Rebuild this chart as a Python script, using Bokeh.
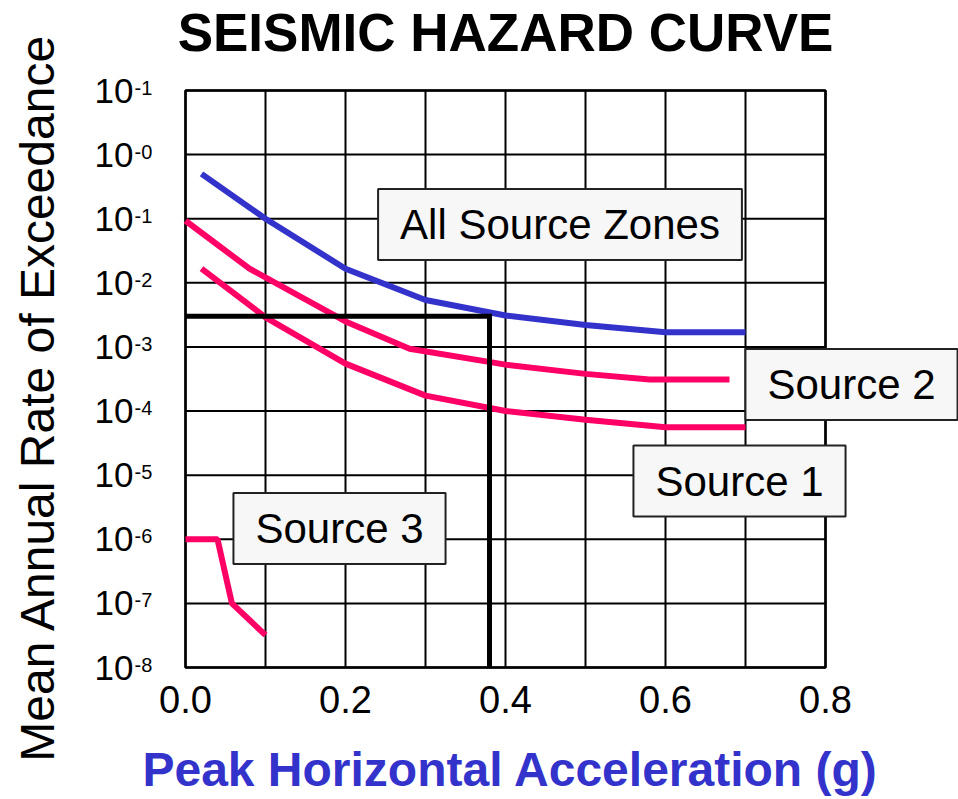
import math

from bokeh.plotting import figure
from bokeh.models import Label
from bokeh.core.properties import value
from bokeh.embed import file_html
from bokeh.resources import INLINE

# ---- data -------------------------------------------------------------
all_x = [0.02, 0.1, 0.2, 0.3, 0.4, 0.5, 0.6, 0.7]
all_y = [0.5, 0.1, 0.0166, 0.0054, 0.0031, 0.0022, 0.0017, 0.0017]

src2_x = [0.0, 0.08, 0.2, 0.28, 0.4, 0.5, 0.58, 0.68]
src2_y = [0.093, 0.0166, 0.0025, 0.00094, 0.00053, 0.00038, 0.00031, 0.00031]

src1_x = [0.02, 0.1, 0.2, 0.3, 0.4, 0.5, 0.6, 0.7]
src1_y = [0.0166, 0.0029, 0.00055, 0.000174, 0.0001, 7.3e-5, 5.6e-5, 5.6e-5]

src3_x = [0.0, 0.04, 0.058, 0.1]
src3_y = [1e-6, 1e-6, 1e-7, 3.2e-8]

# design point
design_pga = 0.38
design_rate = 0.003

x_ticks = [0.0, 0.2, 0.4, 0.6, 0.8]
x_tick_labels = ["0.0", "0.2", "0.4", "0.6", "0.8"]
x_grid = [0.0, 0.1, 0.2, 0.3, 0.4, 0.5, 0.6, 0.7, 0.8]
y_ticks = [1e-8, 1e-7, 1e-6, 1e-5, 1e-4, 1e-3, 1e-2, 1e-1, 1e0, 1e1]
y_tick_base = ["10"] * 10
y_tick_exp = ["-8", "-7", "-6", "-5", "-4", "-3", "-2", "-1", "-0", "-1"]

X_MIN, X_MAX = 0.0, 0.8
Y_MIN, Y_MAX = 1e-8, 1e1

FONT = "Liberation Sans"
BLUE = "#3333CC"
PINK = "#FF0066"

# ---- page geometry ----------------------------------------------------
# The whole canvas is one frame; the grid occupies pixels 185..825 across
# and 90..667 down, 800 px per g and 577/9 px per decade.
W, H = 958, 799
GX0, GX1, GY0, GY1 = 185, 825, 90, 667
PX_PER_G = (GX1 - GX0) / (X_MAX - X_MIN)
PX_PER_DEC = (GY1 - GY0) / (math.log10(Y_MAX) - math.log10(Y_MIN))


def at_x(px):
    """Canvas pixel column -> acceleration coordinate."""
    return X_MIN + (px - GX0) / PX_PER_G


def at_y(py):
    """Canvas pixel row -> rate coordinate on the log axis."""
    return 10 ** (math.log10(Y_MAX) - (py - GY0) / PX_PER_DEC)


p = figure(width=W, height=H, x_range=(at_x(0), at_x(W)),
           y_range=(at_y(H), at_y(0)), y_axis_type="log",
           x_axis_location=None, y_axis_location=None, title=None,
           output_backend="svg", toolbar_location=None, min_border=0)
p.background_fill_color = "white"
p.border_fill_color = "white"
p.outline_line_color = None
p.grid.visible = False

# ---- grid and border --------------------------------------------------
p.segment(x0=x_grid, x1=x_grid, y0=[Y_MIN] * len(x_grid), y1=[Y_MAX] * len(x_grid),
          line_color="black", line_width=2)
p.segment(x0=[X_MIN] * len(y_ticks), x1=[X_MAX] * len(y_ticks),
          y0=y_ticks, y1=y_ticks, line_color="black", line_width=2)
p.quad(left=[X_MIN], right=[X_MAX], bottom=[Y_MIN], top=[Y_MAX],
       fill_color=None, line_color="black", line_width=2.5)

# ---- tick labels ------------------------------------------------------
p.text(x=x_ticks, y=[at_y(GY1)] * len(x_ticks), text=x_tick_labels,
       y_offset=32, text_font=value(FONT), text_font_size="38px",
       text_align="center", text_baseline="alphabetic", text_color="black")
p.text(x=[at_x(133)] * len(y_ticks), y=y_ticks, text=y_tick_base,
       y_offset=0, text_font=value(FONT), text_font_size="35px",
       text_align="right", text_baseline="alphabetic", text_color="black")
p.text(x=[at_x(134)] * len(y_ticks), y=y_ticks, text=y_tick_exp,
       y_offset=-3, text_font=value(FONT), text_font_size="20px",
       text_align="left", text_baseline="alphabetic", text_color="black")

# ---- titles -----------------------------------------------------------
p.add_layout(Label(x=at_x(505), y=at_y(32), text="SEISMIC HAZARD CURVE",
                   text_font=FONT, text_font_size="53px", text_font_style="bold",
                   text_align="center", text_baseline="alphabetic",
                   text_color="black"))
p.add_layout(Label(x=at_x(510), y=at_y(769), text="Peak Horizontal Acceleration (g)",
                   text_font=FONT, text_font_size="48px", text_font_style="bold",
                   text_align="center", text_baseline="alphabetic",
                   text_color=BLUE))
p.add_layout(Label(x=at_x(37), y=at_y(397), text="Mean Annual Rate of Exceedance",
                   angle=math.pi / 2, text_font=FONT, text_font_size="48px",
                   text_align="center", text_baseline="alphabetic",
                   text_color="black"))

# ---- hazard curves ----------------------------------------------------
p.line(all_x, all_y, line_color=BLUE, line_width=6)
p.line(src2_x, src2_y, line_color=PINK, line_width=6)
p.line(src1_x, src1_y, line_color=PINK, line_width=6)
p.line(src3_x, src3_y, line_color=PINK, line_width=6)

# design level: rate across to the curve, then down to the PGA axis
p.line([X_MIN, design_pga, design_pga], [design_rate, design_rate, Y_MIN],
       line_color="black", line_width=5, line_join="miter")

# ---- boxed curve labels -----------------------------------------------
boxes = [
    ("All Source Zones", 559.5, 224),
    ("Source 2", 851, 384),
    ("Source 1", 739, 480.5),
    ("Source 3", 339, 528),
]
pad = dict(left=22, right=22, top=12, bottom=12)
for text, cx, cy in boxes:
    p.add_layout(Label(x=at_x(cx), y=at_y(cy), x_offset=2, y_offset=-2, text=text,
                       text_font=FONT, text_font_size="42px",
                       text_align="center", text_baseline="middle",
                       text_alpha=0.0, background_fill_color="#9a9a9a",
                       padding=pad))
    p.add_layout(Label(x=at_x(cx), y=at_y(cy), text=text, text_font=FONT,
                       text_font_size="42px", text_align="center",
                       text_baseline="middle", text_color="black",
                       background_fill_color="#f7f7f7",
                       border_line_color="#222222", border_line_width=2,
                       padding=pad))

open("out.html", "w").write(file_html(p, INLINE))
